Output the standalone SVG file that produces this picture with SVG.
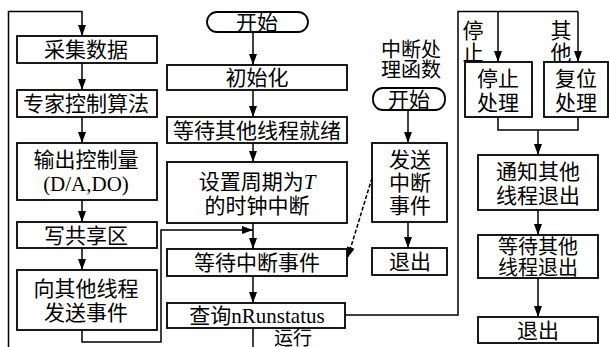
<svg xmlns="http://www.w3.org/2000/svg" width="609" height="347" viewBox="0 0 609 347">
<defs>
<marker id="ah" markerUnits="userSpaceOnUse" markerWidth="12" markerHeight="8" refX="11" refY="4" orient="auto">
<path d="M0,0 L11,4 L0,8 z" fill="#000"/>
</marker>
<style>
.b{fill:#fff;stroke:#000;stroke-width:1.8}
.c{fill:none;stroke:#000;stroke-width:1.5}
.d{fill:none;stroke:#000;stroke-width:1.5;stroke-dasharray:4 2}
text{font-family:"Liberation Serif","Noto Sans CJK SC",serif;font-size:21px;fill:#000;text-anchor:middle}
.s{font-size:20px}
.t{font-size:19px}
</style>
</defs>
<rect width="609" height="347" fill="#fff"/>
<g id="connectors">
<polyline class="c" points="8.5,347 8.5,11.5 82,11.5 82,36" marker-end="url(#ah)"/>
<line class="c" x1="82" y1="63" x2="82" y2="90" marker-end="url(#ah)"/>
<line class="c" x1="82" y1="117" x2="82" y2="143" marker-end="url(#ah)"/>
<line class="c" x1="82" y1="200" x2="82" y2="222" marker-end="url(#ah)"/>
<line class="c" x1="82" y1="248" x2="82" y2="270" marker-end="url(#ah)"/>
<polyline class="c" points="82,330 82,342 161,342 161,230 253,230" marker-end="url(#ah)"/>
<line class="c" x1="253" y1="32" x2="253" y2="65" marker-end="url(#ah)"/>
<line class="c" x1="253" y1="90" x2="253" y2="117" marker-end="url(#ah)"/>
<line class="c" x1="253" y1="143" x2="253" y2="162" marker-end="url(#ah)"/>
<line class="c" x1="253" y1="223" x2="253" y2="249" marker-end="url(#ah)"/>
<line class="c" x1="253" y1="276" x2="253" y2="303" marker-end="url(#ah)"/>
<line class="c" x1="253" y1="328" x2="253" y2="347"/>
<polyline class="c" points="345,315 458,315 458,11.5 578,11.5"/>
<line class="c" x1="498" y1="11.5" x2="498" y2="62" marker-end="url(#ah)"/>
<line class="c" x1="578" y1="11.5" x2="578" y2="62" marker-end="url(#ah)"/>
<polyline class="c" points="498,117 498,130 578,130 578,117"/>
<line class="c" x1="538" y1="130" x2="538" y2="155" marker-end="url(#ah)"/>
<line class="c" x1="538" y1="210" x2="538" y2="235" marker-end="url(#ah)"/>
<line class="c" x1="538" y1="278" x2="538" y2="317" marker-end="url(#ah)"/>
<line class="c" x1="408" y1="110" x2="408" y2="143" marker-end="url(#ah)"/>
<line class="c" x1="408" y1="222" x2="408" y2="248" marker-end="url(#ah)"/>
<line class="d" x1="372" y1="178" x2="347.5" y2="258" marker-end="url(#ah)"/>
<text class="t" x="293" y="345">运行</text>
<text x="473" y="38">停</text>
<text x="473" y="60">止</text>
<text x="561" y="38">其</text>
<text x="561" y="60">他</text>
</g>
<g id="n_caiji"><rect class="b" x="17" y="36" width="140" height="27"/><text x="86" y="57">采集数据</text></g>
<g id="n_zhuanjia"><rect class="b" x="17" y="90" width="140" height="27"/><text x="86" y="111">专家控制算法</text></g>
<g id="n_shuchu"><rect class="b" x="17" y="143" width="140" height="57"/><text x="86" y="167">输出控制量</text><text x="86" y="191">(D/A,DO)</text></g>
<g id="n_xie"><rect class="b" x="17" y="222" width="140" height="26"/><text x="86" y="243">写共享区</text></g>
<g id="n_xiang"><rect class="b" x="17" y="270" width="140" height="60"/><text x="86" y="296">向其他线程</text><text x="86" y="320">发送事件</text></g>
<g id="n_start1"><rect class="b" x="207" y="12" width="101" height="20" rx="10"/><text x="257" y="29.5">开始</text></g>
<g id="n_init"><rect class="b" x="167" y="65" width="180" height="25"/><text x="257" y="85">初始化</text></g>
<g id="n_wait1"><rect class="b" x="167" y="117" width="180" height="26"/><text x="257" y="137.5">等待其他线程就绪</text></g>
<g id="n_set"><rect class="b" x="167" y="162" width="180" height="61"/><text x="257" y="189">设置周期为<tspan font-style="italic">T</tspan></text><text x="257" y="213">的时钟中断</text></g>
<g id="n_waitint"><rect class="b" x="167" y="249" width="180" height="27"/><text x="257" y="270">等待中断事件</text></g>
<g id="n_query"><rect class="b" x="167" y="303" width="178" height="25"/><text x="257" y="323">查询nRunstatus</text></g>
<g id="n_isrlabel"><text class="s" x="411" y="57">中断处</text><text class="s" x="411" y="77">理函数</text></g>
<g id="n_start2"><rect class="b" x="373" y="88" width="72" height="22" rx="10"/><text x="409" y="106.5">开始</text></g>
<g id="n_send"><rect class="b" x="372" y="143" width="75" height="79"/><text x="410" y="167">发送</text><text x="410" y="190">中断</text><text x="410" y="213">事件</text></g>
<g id="n_exit1"><rect class="b" x="372" y="248" width="75" height="27"/><text x="410" y="269">退出</text></g>
<g id="n_stop"><rect class="b" x="465" y="62" width="67" height="55"/><text x="498" y="86">停止</text><text x="498" y="110">处理</text></g>
<g id="n_reset"><rect class="b" x="544" y="62" width="64" height="55"/><text x="576" y="86">复位</text><text x="576" y="110">处理</text></g>
<g id="n_notify"><rect class="b" x="478" y="155" width="120" height="55"/><text x="538" y="179">通知其他</text><text x="538" y="203">线程退出</text></g>
<g id="n_waitexit"><rect class="b" x="478" y="235" width="120" height="43"/><text class="s" x="538" y="254">等待其他</text><text class="s" x="538" y="275">线程退出</text></g>
<g id="n_exit2"><rect class="b" x="478" y="317" width="120" height="26"/><text x="538" y="337.5">退出</text></g>
</svg>
